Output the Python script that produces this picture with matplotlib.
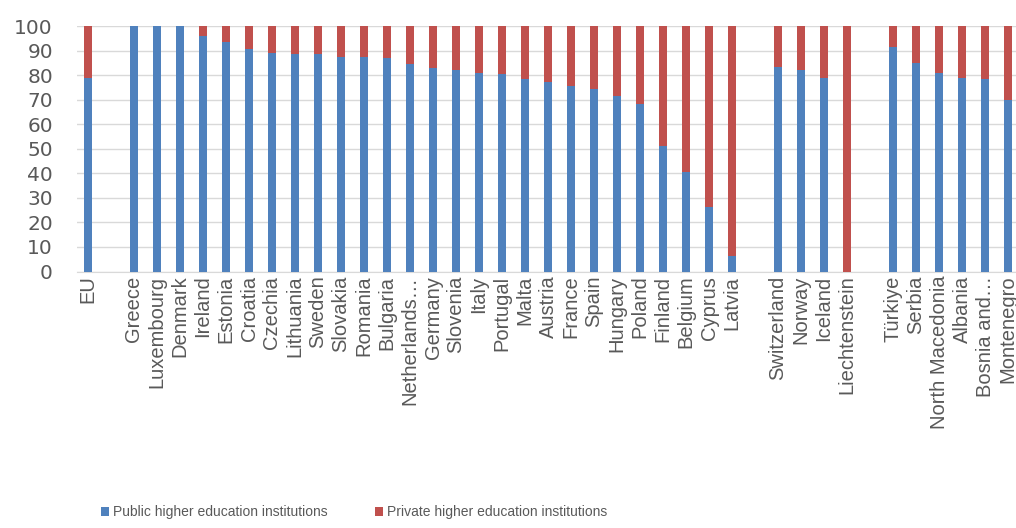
import numpy as np
import matplotlib.pyplot as plt

# Share of students by type of institution (%)
countries = ['EU', '', 'Greece', 'Luxembourg', 'Denmark', 'Ireland', 'Estonia', 'Croatia',
             'Czechia', 'Lithuania', 'Sweden', 'Slovakia', 'Romania', 'Bulgaria',
             'Netherlands…', 'Germany', 'Slovenia', 'Italy', 'Portugal', 'Malta', 'Austria',
             'France', 'Spain', 'Hungary', 'Poland', 'Finland', 'Belgium', 'Cyprus', 'Latvia',
             '', 'Switzerland', 'Norway', 'Iceland', 'Liechtenstein',
             '', 'Türkiye', 'Serbia', 'North Macedonia', 'Albania', 'Bosnia and…', 'Montenegro']
public = [78.7, np.nan, 100, 100, 100, 95.9, 93.6, 90.6,
          89.1, 88.5, 88.5, 87.5, 87.2, 86.9,
          84.4, 82.8, 82.1, 80.7, 80.4, 78.3, 77.3,
          75.6, 74.2, 71.5, 68.2, 51.2, 40.7, 26.4, 6.3,
          np.nan, 83.4, 82.1, 78.7, 0,
          np.nan, 91.6, 85.1, 81.0, 78.7, 78.4, 69.9]

public = np.array(public)
private = 100 - public

blue = '#4F81BD'
red = '#C0504D'
grey_text = '#595959'

plt.rcParams['font.family'] = ['Liberation Sans', 'DejaVu Sans']

fig = plt.figure(figsize=(10.16, 5.28), dpi=100)
ax = fig.add_axes([76.5 / 1016, 1 - 271.5 / 528, 943 / 1016, 245.5 / 528])

x = np.arange(len(countries))
w = 0.32
ax.bar(x, public, width=w, color=blue, zorder=3, label='Public higher education institutions')
ax.bar(x, private, width=w, bottom=public, color=red, zorder=3,
       label='Private higher education institutions')

ax.set_xlim(-0.5, len(countries) - 0.5)
ax.set_ylim(0, 100)
ax.set_yticks(np.arange(0, 101, 10))
ax.set_yticklabels([str(v) for v in range(0, 101, 10)], family='DejaVu Sans',
                   fontsize=14.5, color=grey_text)
ax.set_xticks(x)
ax.set_xticklabels(countries, rotation=90, fontsize=14.5, color=grey_text, va='top')
ax.tick_params(axis='y', length=0, pad=17)
ax.tick_params(axis='x', length=0, pad=3)

ax.grid(axis='y', color='#d9d9d9', linewidth=1, zorder=0)
for s in ['top', 'right', 'left']:
    ax.spines[s].set_visible(False)
ax.spines['bottom'].set_color('#d9d9d9')

fig.legend(loc='center left', bbox_to_anchor=(88 / 1016, 1 - 512 / 528), ncol=2,
           frameon=False, fontsize=10, labelcolor=grey_text,
           handlelength=0.6, handleheight=0.6, handletextpad=0.3, columnspacing=3.4)

fig.savefig('out.png', dpi=100)
